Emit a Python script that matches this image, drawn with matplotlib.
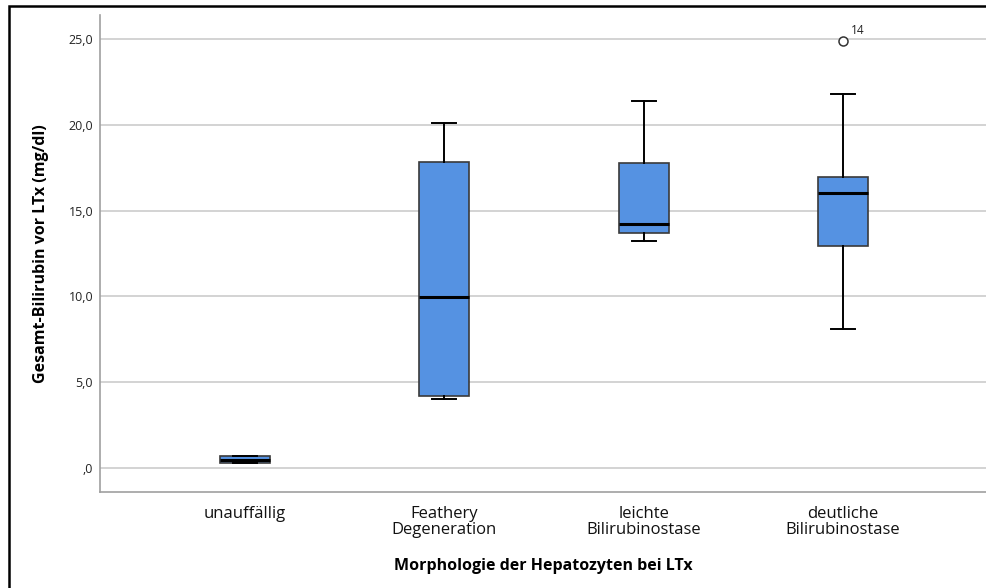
import matplotlib
matplotlib.use("Agg")
import matplotlib.pyplot as plt
from matplotlib.patches import Rectangle

categories = ["unauffällig", "Feathery\nDegeneration", "leichte\nBilirubinostase", "deutliche\nBilirubinostase"]
whisker_low = [0.30, 4.00, 13.20, 8.10]
q1 = [0.30, 4.18, 13.70, 12.95]
median = [0.48, 9.97, 14.20, 16.00]
q3 = [0.70, 17.85, 17.80, 16.98]
whisker_high = [0.70, 20.10, 21.40, 21.80]
outliers = [[], [], [], [24.9]]
outlier_ids = [[], [], [], ["14"]]

yticks = [0, 5, 10, 15, 20, 25]
ytick_labels = [",0", "5,0", "10,0", "15,0", "20,0", "25,0"]

plt.rcParams["font.family"] = ["Open Sans", "DejaVu Sans"]

fig = plt.figure(figsize=(9.86, 5.88), dpi=100)
ax = fig.add_axes([100 / 986, (588 - 492) / 588, 886 / 986, (492 - 15) / 588])

stats = []
for i in range(len(categories)):
    stats.append(dict(med=median[i], q1=q1[i], q3=q3[i],
                      whislo=whisker_low[i], whishi=whisker_high[i],
                      fliers=outliers[i]))

positions = list(range(1, len(categories) + 1))
ax.bxp(stats, positions=positions, widths=0.25, patch_artist=True,
       boxprops=dict(facecolor="#5592e2", edgecolor="#3a3a3a", linewidth=1.2),
       medianprops=dict(color="black", linewidth=2.2),
       whiskerprops=dict(color="black", linewidth=1.4),
       capprops=dict(color="black", linewidth=1.4),
       capwidths=0.12,
       flierprops=dict(marker="o", markerfacecolor="white", markeredgecolor="#333333",
                       markersize=6.5, markeredgewidth=1.1),
       zorder=3)

for i, (vals, ids) in enumerate(zip(outliers, outlier_ids)):
    for v, lab in zip(vals, ids):
        ax.annotate(lab, (positions[i], v), xytext=(6, 5), textcoords="offset points",
                    fontsize=8.5, color="#222222")

ax.set_xlim(0.272, 4.718)
ax.set_ylim(-1.40, 26.4)
ax.set_yticks(yticks)
ax.set_yticklabels(ytick_labels, fontsize=9, color="#222222")
ax.set_xticks(positions)
ax.set_xticklabels(categories, fontsize=12, color="#111111", linespacing=1.05)
ax.tick_params(axis="y", length=0, pad=5)
ax.tick_params(axis="x", length=0, pad=10)
ax.yaxis.grid(True, color="#cccccc", linewidth=1.2, zorder=0)
ax.set_axisbelow(True)
for s in ["top", "right"]:
    ax.spines[s].set_visible(False)
for s in ["left", "bottom"]:
    ax.spines[s].set_color("#a0a0a0")
    ax.spines[s].set_linewidth(1.2)

ax.set_ylabel("Gesamt-Bilirubin vor LTx (mg/dl)", fontsize=11.5, fontweight="bold", labelpad=14)
ax.set_xlabel("Morphologie der Hepatozyten bei LTx", fontsize=11.5, fontweight="bold", labelpad=14)

fig.patches.append(Rectangle((9 / 986, -0.05), 1.2, (588 - 6) / 588 + 0.05,
                             transform=fig.transFigure, fill=False,
                             edgecolor="black", linewidth=1.8))

fig.savefig("out.png", dpi=100)
